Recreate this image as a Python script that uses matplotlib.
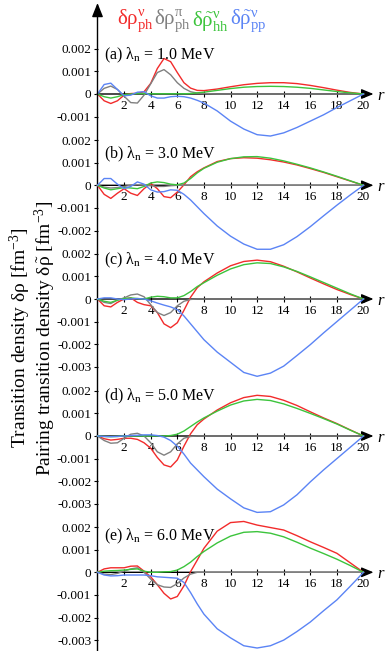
import matplotlib.pyplot as plt

plt.rcParams['font.family'] = 'Liberation Serif'
plt.rcParams['mathtext.fontset'] = 'custom'
plt.rcParams['mathtext.rm'] = 'Liberation Serif'
plt.rcParams['mathtext.it'] = 'Liberation Serif:italic'
plt.rcParams['mathtext.bf'] = 'Liberation Serif:bold'
plt.rcParams['axes.unicode_minus'] = False

# radius grid [fm]
r = [0, 0.5, 1, 1.5, 2, 2.5, 3, 3.5, 4, 4.5, 5, 5.5, 6, 6.5, 7, 7.5, 8,
     9, 10, 11, 12, 13, 14, 15, 16, 17, 18, 19, 20]
z12 = [0] * 12

# densities in units of 1e-3 fm^-3
# (a) lambda_n = 1.0 MeV
red_a = [0, -0.30, -0.42, -0.30, -0.05, 0.02, 0.03, 0.10, 0.47, 1.13, 1.57, 1.43, 0.95, 0.50, 0.26, 0.16, 0.15,
         0.22, 0.32, 0.41, 0.47, 0.50, 0.50, 0.46, 0.38, 0.28, 0.17, 0.07, 0]
gray_a = [0, 0.25, 0.35, 0.20, -0.10, -0.38, -0.40, -0.05, 0.45, 0.95, 1.08, 0.85, 0.50, 0.25, 0.10, 0.04, 0.02] + z12
green_a = [0, -0.12, -0.18, -0.12, -0.03, 0, 0.02, 0.02, 0.01, 0.01, 0.01, 0.01, 0.01, 0.01, 0.02, 0.05, 0.08,
           0.16, 0.24, 0.30, 0.33, 0.34, 0.33, 0.30, 0.25, 0.18, 0.11, 0.05, 0]
blue_a = [0, 0.42, 0.48, 0.20, -0.08, -0.05, 0.08, 0.10, -0.08, -0.18, -0.18, -0.12, -0.10, -0.12, -0.18, -0.28, -0.40,
          -0.75, -1.20, -1.55, -1.80, -1.86, -1.72, -1.48, -1.20, -0.92, -0.60, -0.30, 0]

# (b) lambda_n = 3.0 MeV
red_b = [0, -0.40, -0.58, -0.35, -0.15, -0.35, -0.45, -0.15, 0.08, -0.15, -0.50, -0.55, -0.30, 0.02, 0.38, 0.60, 0.77,
         1.05, 1.18, 1.22, 1.20, 1.13, 1.03, 0.90, 0.74, 0.57, 0.38, 0.19, 0]
gray_b = [0, -0.08, -0.12, -0.10, -0.05, 0, 0.02, 0, -0.02, -0.05, -0.05, -0.02, 0, 0, 0, 0, 0] + z12
green_b = [0, -0.12, -0.20, -0.15, -0.10, -0.12, -0.15, -0.05, 0.10, 0.15, 0.12, 0.05, 0.02, 0.10, 0.30, 0.55, 0.75,
           1.02, 1.18, 1.26, 1.27, 1.20, 1.08, 0.93, 0.77, 0.59, 0.40, 0.20, 0]
blue_b = [0, 0.30, 0.30, 0.05, -0.15, -0.05, 0.15, 0.05, -0.20, -0.30, -0.28, -0.20, -0.22, -0.40, -0.65, -0.95, -1.25,
          -1.80, -2.25, -2.60, -2.83, -2.83, -2.63, -2.27, -1.83, -1.35, -0.88, -0.43, 0]

# (c) lambda_n = 4.0 MeV
red_c = [0, -0.30, -0.35, -0.15, 0, 0.05, -0.15, -0.25, -0.30, -0.60, -1.10, -1.27, -1.05, -0.50, 0.08, 0.50, 0.76,
         1.15, 1.47, 1.66, 1.72, 1.65, 1.45, 1.20, 0.93, 0.67, 0.42, 0.20, 0]
gray_c = [0, -0.15, -0.20, -0.05, 0.05, 0.18, 0.22, 0.10, -0.25, -0.60, -0.73, -0.60, -0.30, -0.10, -0.02, 0, 0] + z12
green_c = [0, -0.10, -0.15, -0.05, 0.02, 0.05, 0.02, 0, 0.08, 0.12, 0.10, 0.05, 0.05, 0.15, 0.33, 0.55, 0.72,
           1.05, 1.33, 1.52, 1.60, 1.57, 1.42, 1.22, 0.98, 0.73, 0.48, 0.23, 0]
blue_c = [0, 0.05, 0.05, 0, -0.03, 0, 0.02, 0, -0.08, -0.18, -0.27, -0.35, -0.47, -0.75, -1.10, -1.45, -1.80,
          -2.35, -2.80, -3.25, -3.42, -3.28, -2.97, -2.50, -2.02, -1.50, -1.00, -0.50, 0]

# (d) lambda_n = 5.0 MeV
red_d = [0, -0.12, -0.18, -0.15, -0.10, -0.10, -0.15, -0.30, -0.54, -0.95, -1.28, -1.37, -1.06, -0.45, 0.10, 0.50, 0.75,
         1.15, 1.47, 1.70, 1.80, 1.75, 1.58, 1.35, 1.07, 0.80, 0.55, 0.27, 0]
gray_d = [0, -0.20, -0.32, -0.30, -0.10, 0.08, 0.12, 0, -0.30, -0.70, -0.85, -0.70, -0.35, -0.10, -0.02, 0, 0] + z12
green_d = [0, -0.02, -0.03, -0.02, 0, 0, 0, 0, 0, 0, 0, 0.02, 0.08, 0.22, 0.42, 0.62, 0.80,
           1.10, 1.37, 1.55, 1.62, 1.57, 1.42, 1.22, 1.00, 0.77, 0.53, 0.26, 0]
blue_d = [0, -0.02, -0.03, -0.02, 0, 0.02, 0.03, 0.05, 0.05, 0.02, -0.05, -0.20, -0.45, -0.80, -1.20, -1.50, -1.80,
          -2.35, -2.78, -3.18, -3.38, -3.35, -3.05, -2.60, -2.03, -1.50, -1.00, -0.50, 0]

# (e) lambda_n = 6.0 MeV
red_e = [0, 0.15, 0.20, 0.20, 0.20, 0.27, 0.28, 0.05, -0.20, -0.55, -0.93, -1.18, -1.07, -0.60, 0.03, 0.54, 1.06,
         1.82, 2.20, 2.25, 2.09, 1.98, 1.87, 1.62, 1.35, 1.10, 0.84, 0.42, 0]
gray_e = [0, -0.08, -0.10, -0.05, 0.05, 0.15, 0.20, 0, -0.30, -0.55, -0.65, -0.67, -0.50, -0.25, -0.08, 0, 0] + z12
green_e = [0, 0.05, 0.07, 0.08, 0.10, 0.13, 0.15, 0.05, 0, 0, 0.02, 0.03, 0.10, 0.25, 0.45, 0.70, 0.92,
           1.30, 1.60, 1.77, 1.80, 1.73, 1.57, 1.33, 1.07, 0.83, 0.58, 0.30, 0]
blue_e = [0, -0.12, -0.16, -0.15, -0.12, -0.12, -0.12, -0.12, -0.15, -0.20, -0.22, -0.24, -0.26, -0.45, -0.90, -1.40, -1.85,
          -2.50, -2.90, -3.25, -3.35, -3.25, -3.00, -2.62, -2.20, -1.70, -1.22, -0.62, 0]

labels = ['(a)', '(b)', '(c)', '(d)', '(e)']
lambdas = ['1.0', '3.0', '4.0', '5.0', '6.0']
yticks = [[0.002, 0.001, 0, -0.001],
          [0.002, 0.001, 0, -0.001, -0.002],
          [0.002, 0.001, 0, -0.001, -0.002, -0.003],
          [0.002, 0.001, 0, -0.001, -0.002, -0.003],
          [0.002, 0.001, 0, -0.001, -0.002, -0.003]]
xticks = [2, 4, 6, 8, 10, 12, 14, 16, 18, 20]
curves = [(red_a, gray_a, green_a, blue_a),
          (red_b, gray_b, green_b, blue_b),
          (red_c, gray_c, green_c, blue_c),
          (red_d, gray_d, green_d, blue_d),
          (red_e, gray_e, green_e, blue_e)]

colors = ['#f22b2b', '#808080', '#3cc43c', '#5b84f5']
legend = [r'$\mathrm{δρ^{ν}_{ph}}$', r'$\mathrm{δρ^{π}_{ph}}$',
          r'$\mathrm{δ\tilde{ρ}^{ν}_{hh}}$', r'$\mathrm{δ\tilde{ρ}^{ν}_{pp}}$']

# layout in pixels
W, H = 390, 651
x0, sx, sy = 97.5, 13.3, 22.6
zero_px = [94, 185.3, 299, 436, 572.3]
label_y = [1.72, 1.38, 1.70, 1.74, 1.58]

fig = plt.figure(figsize=(W / 100, H / 100), dpi=100)

for i in range(5):
    p = zero_px[i]
    ax = fig.add_axes([x0 / W, 0, 22 * sx / W, 1])
    ax.set_xlim(0, 22)
    ax.set_ylim(-(H - p) / sy * 1e-3, p / sy * 1e-3)
    ax.patch.set_visible(False)
    for s in ['top', 'right', 'left']:
        ax.spines[s].set_visible(False)
    ax.spines['bottom'].set_position(('data', 0))
    ax.spines['bottom'].set_visible(False)

    ax.set_xticks(xticks)
    ax.set_xticklabels([str(t) for t in xticks])
    ax.set_yticks(yticks[i])
    ax.set_yticklabels(['%g' % t for t in yticks[i]])
    ax.tick_params(axis='x', direction='inout', length=5, width=0.8, labelsize=9.5, pad=1.5)
    ax.tick_params(axis='y', direction='out', length=3, width=0.8, labelsize=9.5, pad=1.5)

    red, gray, green, blue = curves[i]
    for ys, c in zip([red, gray, green, blue], colors):
        ax.plot(r, [v * 1e-3 for v in ys], color=c, lw=1.0, zorder=3, clip_on=False)

    ax.annotate('', xy=(20.75, 0), xytext=(0, 0),
                arrowprops=dict(arrowstyle='-|>,head_length=0.6,head_width=0.25', color='k',
                                lw=1.0, mutation_scale=12, shrinkA=0, shrinkB=0), zorder=2)
    ax.text(21.3, -0.00008, 'r', style='italic', fontsize=12, ha='center', va='center')
    ax.text(0.5, label_y[i] * 1e-3, labels[i] + r' $\mathrm{λ_n}$ = ' + lambdas[i] + ' MeV',
            fontsize=11.5, ha='left', va='center')

    if i == 0:
        ax.annotate('', xy=(0, 1 - 3 / H), xytext=(0, 0), xycoords='axes fraction',
                    arrowprops=dict(arrowstyle='-|>,head_length=0.7,head_width=0.28', color='k',
                                    lw=1.0, mutation_scale=12, shrinkA=0, shrinkB=0))

leg_x = [117, 154, 192, 230]
for lx, txt, c in zip(leg_x, legend, colors):
    fig.text(lx / W, 1 - 21 / H, txt, color=c, fontsize=15, ha='left', va='center')

fig.text(33 / W, 1 - 338 / H,
         'Transition density δρ [fm$^{-3}$]\nPairing transition density δ$\\tilde{\\mathrm{ρ}}$ [fm$^{-3}$]',
         rotation=90, fontsize=14, ha='center', va='center', multialignment='center', linespacing=1.0)

fig.savefig('out.png', dpi=100)
